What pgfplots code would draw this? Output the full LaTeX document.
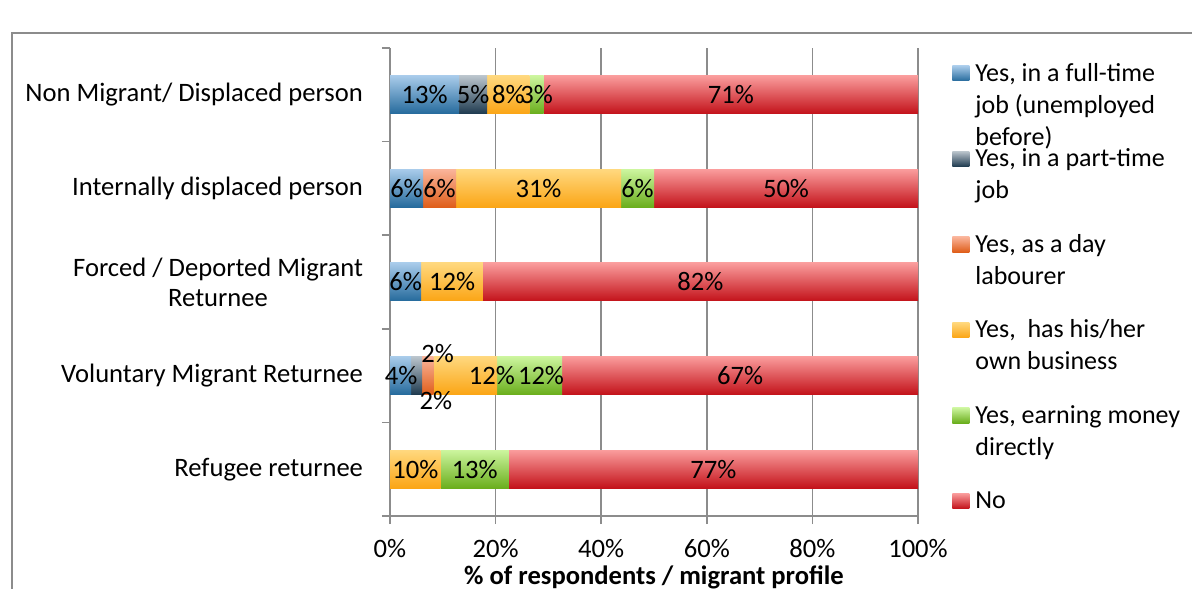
\documentclass[border=0pt]{standalone}
\usepackage{fontspec}
\setmainfont{Carlito}
\usepackage{pgfplots}
\pgfplotsset{compat=1.18}
\definecolor{ftT}{HTML}{A8CBEA}\definecolor{ftB}{HTML}{256A9C}
\definecolor{ptT}{HTML}{BAC4CC}\definecolor{ptB}{HTML}{1E3A4F}
\definecolor{dlT}{HTML}{FAB49A}\definecolor{dlB}{HTML}{DF5E1A}
\definecolor{obT}{HTML}{FFD87E}\definecolor{obB}{HTML}{FBA515}
\definecolor{emT}{HTML}{CCF59E}\definecolor{emB}{HTML}{6AAE1C}
\definecolor{noT}{HTML}{FA9C9C}\definecolor{noB}{HTML}{C3121A}
\definecolor{gridc}{HTML}{8C8C8C}
\tikzset{lab/.style={font=\fontsize{13.3}{15}\selectfont, inner sep=0pt},
  sFT/.style={draw=none, top color=ftT, middle color=ftT!65!ftB, bottom color=ftB},
  sPT/.style={draw=none, top color=ptT, middle color=ptT!65!ptB, bottom color=ptB},
  sDL/.style={draw=none, top color=dlT, middle color=dlT!65!dlB, bottom color=dlB},
  sOB/.style={draw=none, top color=obT, middle color=obT!65!obB, bottom color=obB},
  sEM/.style={draw=none, top color=emT, middle color=emT!65!emB, bottom color=emB},
  sNO/.style={draw=none, top color=noT, middle color=noT!65!noB, bottom color=noB}}
\pgfplotsset{base/.style={at={(0,0)}, anchor=south west,
  width=264pt, height=234pt, scale only axis,
  xbar stacked, bar width=19pt,
  xmin=0, xmax=100, ymin=-0.5, ymax=4.5},
  row/.style={base, hide axis}}
\begin{document}
\begin{tikzpicture}[x=1pt,y=1pt]
\useasboundingbox (-195,-36) rectangle (401,258);
\draw[gridc, line width=1pt] (-189,-80) rectangle (450,241.5);
% axis frame, ticks, grid and legend
\begin{axis}[base,
  xtick={0,20,...,100},
  xticklabel={\pgfmathprintnumber{\tick}\%},
  ytick={0,1,2,3,4},
  yticklabels={Refugee returnee, Voluntary Migrant Returnee, {Forced / Deported Migrant\\Returnee}, Internally displaced person, Non Migrant/ Displaced person},
  minor ytick={-0.5,0.5,...,4.5},
  major y tick style={draw=none},
  tick align=outside,
  major tick length=4pt, minor tick length=4pt,
  axis x line*=bottom, axis y line*=left,
  axis line style={gridc, line width=0.8pt, -},
  tick style={gridc, line width=0.8pt},
  xmajorgrids, grid style={gridc, line width=0.8pt},
  /pgf/number format/assume math mode=true,
  ticklabel style={font=\fontsize{13.3}{15}\selectfont, text=black},
  xticklabel style={yshift=-4pt},
  yticklabel style={align=center, xshift=-6pt},
  xlabel={\bfseries\% of respondents / migrant profile},
  xlabel style={font=\fontsize{13.3}{15}\selectfont, at={(axis description cs:0.5,0)}, anchor=center, yshift=-30.5pt},
  legend style={draw=none, fill=none, at={(1.0644,0.970)}, anchor=north west, inner sep=0pt, column sep=3pt, row sep=0pt,
    nodes={inner sep=0pt, font=\fontsize{13}{16}\selectfont, text width=140pt, align=flush left, text height=9.5pt, text depth=33.25pt}},
  legend cell align=left,
  legend image code/.code={\path[#1, draw=none] (0pt,12.1pt) rectangle (8.5pt,19.7pt);},
]
\addlegendimage{sFT}\addlegendentry{Yes, in a full-time\\job (unemployed\\before)}
\addlegendimage{sPT}\addlegendentry{Yes, in a part-time\\job}
\addlegendimage{sDL}\addlegendentry{Yes, as a day\\labourer}
\addlegendimage{sOB}\addlegendentry{Yes,\ \ has his/her\\own business}
\addlegendimage{sEM}\addlegendentry{Yes, earning money\\directly}
\addlegendimage{sNO}\addlegendentry{No}
\end{axis}
% Non Migrant / Displaced person
\begin{axis}[row]
\addplot[sFT] coordinates {(13.1,4)};
\addplot[sPT] coordinates {(5.3,4)};
\addplot[sOB] coordinates {(8.0,4)};
\addplot[sEM] coordinates {(2.7,4)};
\addplot[sNO] coordinates {(70.9,4)};
\end{axis}
% Internally displaced person
\begin{axis}[row]
\addplot[sFT] coordinates {(6.25,3)};
\addplot[sDL] coordinates {(6.25,3)};
\addplot[sOB] coordinates {(31.25,3)};
\addplot[sEM] coordinates {(6.25,3)};
\addplot[sNO] coordinates {(50,3)};
\end{axis}
% Forced / Deported Migrant Returnee
\begin{axis}[row]
\addplot[sFT] coordinates {(5.9,2)};
\addplot[sOB] coordinates {(11.7,2)};
\addplot[sNO] coordinates {(82.4,2)};
\end{axis}
% Voluntary Migrant Returnee
\begin{axis}[row]
\addplot[sFT] coordinates {(4.0,1)};
\addplot[sPT] coordinates {(2.1,1)};
\addplot[sDL] coordinates {(2.1,1)};
\addplot[sOB] coordinates {(12.1,1)};
\addplot[sEM] coordinates {(12.3,1)};
\addplot[sNO] coordinates {(67.4,1)};
\end{axis}
% Refugee returnee
\begin{axis}[row]
\addplot[sOB] coordinates {(9.6,0)};
\addplot[sEM] coordinates {(12.9,0)};
\addplot[sNO] coordinates {(77.5,0)};
\end{axis}
% value labels
\begin{axis}[row, clip=false]
\node[lab] at (axis cs:6.55,4) {13\%};
\node[lab] at (axis cs:15.75,4) {5\%};
\node[lab] at (axis cs:22.4,4) {8\%};
\node[lab] at (axis cs:27.75,4) {3\%};
\node[lab] at (axis cs:64.55,4) {71\%};
\node[lab] at (axis cs:3.125,3) {6\%};
\node[lab] at (axis cs:9.375,3) {6\%};
\node[lab] at (axis cs:28.125,3) {31\%};
\node[lab] at (axis cs:46.875,3) {6\%};
\node[lab] at (axis cs:75,3) {50\%};
\node[lab] at (axis cs:2.95,2) {6\%};
\node[lab] at (axis cs:11.75,2) {12\%};
\node[lab] at (axis cs:58.8,2) {82\%};
\node[lab] at (axis cs:2.1,1) {4\%};
\node[lab] at (axis cs:9.0,1.235) {2\%};
\node[lab] at (axis cs:8.7,0.73) {2\%};
\node[lab] at (axis cs:19.3,1) {12\%};
\node[lab] at (axis cs:28.6,1) {12\%};
\node[lab] at (axis cs:66.3,1) {67\%};
\node[lab] at (axis cs:4.8,0) {10\%};
\node[lab] at (axis cs:16.05,0) {13\%};
\node[lab] at (axis cs:61.25,0) {77\%};
\end{axis}
\end{tikzpicture}
\end{document}
